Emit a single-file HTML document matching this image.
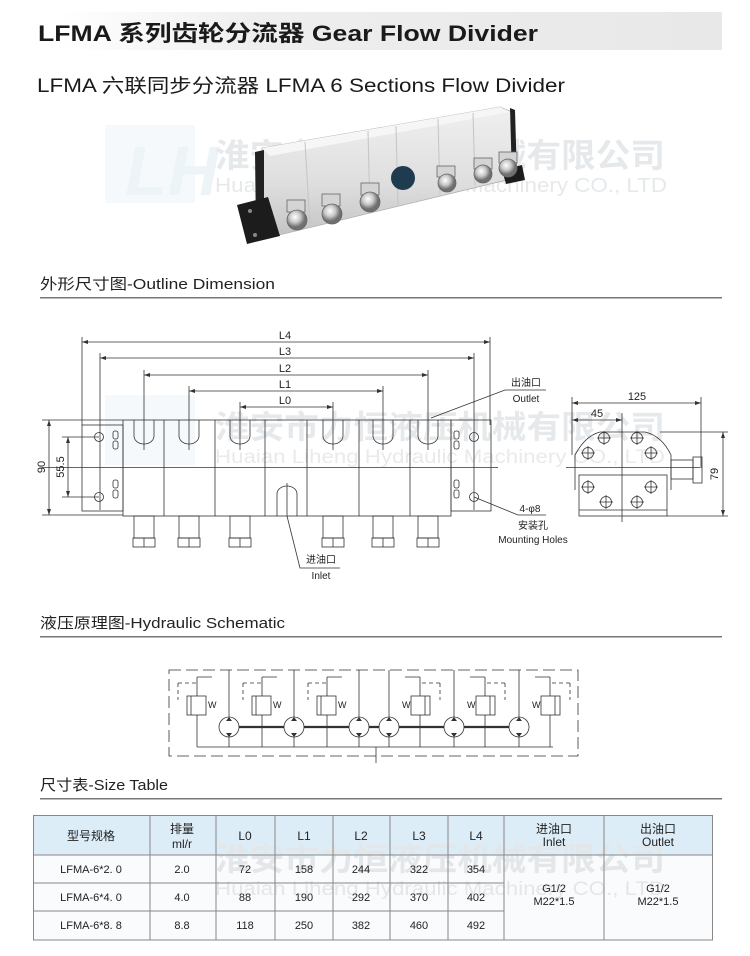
<!DOCTYPE html>
<html><head><meta charset="utf-8"><style>
html,body{margin:0;padding:0;background:#fff;}
svg{display:block;}
text{font-family:"Liberation Sans","Noto Sans CJK SC",sans-serif;}
</style></head><body>
<svg width="750" height="956" viewBox="0 0 750 956" xmlns="http://www.w3.org/2000/svg">
<defs>
<linearGradient id="hg" x1="0" x2="1"><stop offset="0" stop-color="#fff"/><stop offset="0.3" stop-color="#eeeeee"/><stop offset="1" stop-color="#e8e8e8"/></linearGradient>
<linearGradient id="body" x1="0" y1="0" x2="0" y2="1"><stop offset="0" stop-color="#f0f0f0"/><stop offset="0.6" stop-color="#dedede"/><stop offset="1" stop-color="#c4c4c4"/></linearGradient>
<radialGradient id="bolt" cx="0.4" cy="0.35"><stop offset="0" stop-color="#fff"/><stop offset="0.55" stop-color="#c8c8c8"/><stop offset="1" stop-color="#707070"/></radialGradient>
</defs>

<!-- header -->
<rect x="60" y="12" width="662" height="38" fill="url(#hg)"/>
<text x="38" y="41" font-size="22" font-weight="bold" fill="#1a1a1a" textLength="500" lengthAdjust="spacingAndGlyphs">LFMA 系列齿轮分流器 Gear Flow Divider</text>
<text x="37" y="92" font-size="19" fill="#1a1a1a" textLength="528" lengthAdjust="spacingAndGlyphs">LFMA 六联同步分流器 LFMA 6 Sections Flow Divider</text>

<!-- watermark photo -->
<rect x="105" y="125" width="90" height="78" fill="#f5f9fb"/>
<text x="125" y="195" font-size="70" font-style="italic" font-weight="bold" fill="#edf4f8">LH</text>
<text x="215" y="167" font-size="33" font-weight="bold" fill="#e6e9eb" textLength="450" lengthAdjust="spacingAndGlyphs">淮安市力恒液压机械有限公司</text>
<text x="215" y="192" font-size="20" fill="#e6e9eb" textLength="452" lengthAdjust="spacingAndGlyphs">Huaian Liheng Hydraulic Machinery CO., LTD</text>

<!-- photo of divider -->
<g>
<polygon points="262,148 500,107 512,112 515,178 275,236 262,232" fill="url(#body)" stroke="#b0b0b0" stroke-width="0.8"/>
<polygon points="262,148 500,107 510,112 270,156" fill="#f6f6f6"/>
<line x1="305" y1="142" x2="310" y2="226" stroke="#c4c4c4"/>
<line x1="368" y1="131" x2="370" y2="212" stroke="#c4c4c4"/>
<line x1="396" y1="126" x2="398" y2="205" stroke="#c4c4c4"/>
<line x1="438" y1="119" x2="440" y2="195" stroke="#c4c4c4"/>
<line x1="473" y1="113" x2="475" y2="186" stroke="#c4c4c4"/>
<polygon points="255,152 264,150 264,232 256,234" fill="#222"/>
<polygon points="510,108 515,110 517,178 512,180" fill="#222"/>
<polygon points="237,205 268,197 280,236 247,244" fill="#1c1c1c"/>
<circle cx="250" cy="211" r="2" fill="#888"/><circle cx="255" cy="235" r="2" fill="#888"/>
<polygon points="502,170 522,165 525,180 506,184" fill="#1c1c1c"/>
<circle cx="403" cy="178" r="12" fill="#1e3b50"/>
<g stroke="#666" stroke-width="0.8">
<rect x="287" y="200" width="18" height="12" fill="#d4d4d4"/><circle cx="297" cy="220" r="10" fill="url(#bolt)"/>
<rect x="322" y="194" width="18" height="12" fill="#d4d4d4"/><circle cx="332" cy="214" r="10" fill="url(#bolt)"/>
<rect x="361" y="183" width="18" height="12" fill="#d4d4d4"/><circle cx="370" cy="202" r="10" fill="url(#bolt)"/>
<rect x="437" y="166" width="18" height="11" fill="#d4d4d4"/><circle cx="447" cy="183" r="9" fill="url(#bolt)"/>
<rect x="474" y="158" width="18" height="11" fill="#d4d4d4"/><circle cx="483" cy="174" r="9" fill="url(#bolt)"/>
<rect x="499" y="152" width="18" height="11" fill="#d4d4d4"/><circle cx="508" cy="168" r="9" fill="url(#bolt)"/>
</g>
</g>

<!-- section headings -->
<text x="40" y="289" font-size="15" fill="#222" textLength="235" lengthAdjust="spacingAndGlyphs">外形尺寸图-Outline Dimension</text>
<rect x="40" y="297" width="682" height="1.5" fill="#777"/>
<text x="40" y="628" font-size="15" fill="#222" textLength="245" lengthAdjust="spacingAndGlyphs">液压原理图-Hydraulic Schematic</text>
<rect x="40" y="636" width="682" height="1.5" fill="#777"/>
<text x="40" y="790" font-size="15" fill="#222" textLength="128" lengthAdjust="spacingAndGlyphs">尺寸表-Size Table</text>
<rect x="40" y="798" width="682" height="1.5" fill="#777"/>

<!-- watermark dimension -->
<rect x="105" y="395" width="90" height="70" fill="#f5f9fb"/>
<text x="215" y="438" font-size="32" font-weight="bold" fill="#e6e9eb" textLength="450" lengthAdjust="spacingAndGlyphs">淮安市力恒液压机械有限公司</text>
<text x="215" y="463" font-size="19" fill="#e8eaec" textLength="450" lengthAdjust="spacingAndGlyphs">Huaian Liheng Hydraulic Machinery CO., LTD</text>

<!-- dimension drawing -->
<g stroke="#333" stroke-width="0.8" fill="none">
<line x1="82" y1="342" x2="490" y2="342"/>
<line x1="100" y1="358" x2="474" y2="358"/>
<line x1="144" y1="375" x2="428" y2="375"/>
<line x1="189" y1="391" x2="383" y2="391"/>
<line x1="240" y1="407" x2="333" y2="407"/>
<line x1="82" y1="337" x2="82" y2="425"/><line x1="490" y1="337" x2="490" y2="425"/>
<line x1="100" y1="353" x2="100" y2="510"/><line x1="474" y1="353" x2="474" y2="510"/>
<line x1="144" y1="370" x2="144" y2="450"/><line x1="428" y1="370" x2="428" y2="450"/>
<line x1="189" y1="386" x2="189" y2="450"/><line x1="383" y1="386" x2="383" y2="450"/>
<line x1="240" y1="402" x2="240" y2="450"/><line x1="333" y1="402" x2="333" y2="450"/>
<line x1="49" y1="420" x2="49" y2="515"/>
<line x1="42" y1="420" x2="123" y2="420"/><line x1="42" y1="515" x2="123" y2="515"/>
<line x1="68" y1="437" x2="68" y2="497"/>
<line x1="62" y1="437" x2="99" y2="437"/><line x1="62" y1="497" x2="99" y2="497"/>
<line x1="42" y1="467.5" x2="498" y2="467.5"/>
<rect x="82" y="425" width="41" height="86"/>
<rect x="451" y="420" width="40" height="91"/>
<circle cx="99" cy="437" r="4.5"/><circle cx="99" cy="497" r="4.5"/>
<circle cx="474" cy="437" r="4.5"/><circle cx="474" cy="497" r="4.5"/>
<rect x="113" y="431" width="5" height="8" rx="2"/><rect x="113" y="441" width="5" height="8" rx="2"/>
<rect x="113" y="480" width="5" height="8" rx="2"/><rect x="113" y="490" width="5" height="8" rx="2"/>
<rect x="454" y="431" width="5" height="8" rx="2"/><rect x="454" y="441" width="5" height="8" rx="2"/>
<rect x="454" y="480" width="5" height="8" rx="2"/><rect x="454" y="490" width="5" height="8" rx="2"/>
<rect x="123" y="420" width="328" height="96"/>
<line x1="164" y1="420" x2="164" y2="516"/><line x1="215" y1="420" x2="215" y2="516"/>
<line x1="265" y1="420" x2="265" y2="516"/><line x1="307" y1="420" x2="307" y2="516"/>
<line x1="359" y1="420" x2="359" y2="516"/><line x1="410" y1="420" x2="410" y2="516"/>
<path d="M134,420 V436 A10,8 0 0 0 154,436 V420"/>
<path d="M179,420 V436 A10,8 0 0 0 199,436 V420"/>
<path d="M230,420 V436 A10,8 0 0 0 250,436 V420"/>
<path d="M323,420 V436 A10,8 0 0 0 343,436 V420"/>
<path d="M373,420 V436 A10,8 0 0 0 393,436 V420"/>
<path d="M418,420 V436 A10,8 0 0 0 438,436 V420"/>
<path d="M277,516 V494 A10,8 0 0 1 297,494 V516"/>
<line x1="287" y1="483" x2="287" y2="516"/>
<g>
<rect x="134" y="516" width="20" height="22"/><rect x="133" y="538" width="22" height="9"/><line x1="144" y1="538" x2="144" y2="547"/>
<rect x="179" y="516" width="20" height="22"/><rect x="178" y="538" width="22" height="9"/><line x1="189" y1="538" x2="189" y2="547"/>
<rect x="230" y="516" width="20" height="22"/><rect x="229" y="538" width="22" height="9"/><line x1="240" y1="538" x2="240" y2="547"/>
<rect x="323" y="516" width="20" height="22"/><rect x="322" y="538" width="22" height="9"/><line x1="333" y1="538" x2="333" y2="547"/>
<rect x="373" y="516" width="20" height="22"/><rect x="372" y="538" width="22" height="9"/><line x1="383" y1="538" x2="383" y2="547"/>
<rect x="418" y="516" width="20" height="22"/><rect x="417" y="538" width="22" height="9"/><line x1="428" y1="538" x2="428" y2="547"/>
</g>
<polyline points="431,418 505,390 546,390"/>
<polyline points="474,497 518,515 546,515"/>
<polyline points="287,516 300,568 340,568"/>

<line x1="572" y1="403" x2="701" y2="403"/>
<line x1="572" y1="397" x2="572" y2="455"/><line x1="701" y1="397" x2="701" y2="468"/>
<line x1="572" y1="420" x2="622" y2="420"/>
<line x1="622" y1="413" x2="622" y2="522"/>
<line x1="723" y1="432" x2="723" y2="516"/>
<line x1="660" y1="432" x2="728" y2="432"/><line x1="667" y1="516" x2="728" y2="516"/>
<line x1="566" y1="467.5" x2="700" y2="467.5"/>
<path d="M575,490 V455 Q585,436 600,432 H645 Q662,436 671,455 V490"/>
<rect x="579" y="475" width="88" height="41"/>
<line x1="579" y1="510" x2="667" y2="510"/>
<rect x="671" y="460" width="22" height="19"/>
<rect x="693" y="457" width="9" height="26"/>
<g>
<circle cx="604" cy="438" r="5.5"/><circle cx="637" cy="438" r="5.5"/>
<circle cx="588" cy="453" r="5.5"/><circle cx="651" cy="453" r="5.5"/>
<circle cx="588" cy="487" r="5.5"/><circle cx="651" cy="487" r="5.5"/>
<circle cx="606" cy="502" r="5.5"/><circle cx="637" cy="502" r="5.5"/>
<path d="M604,431V445M597,438H611M637,431V445M630,438H644M588,446V460M581,453H595M651,446V460M644,453H658M588,480V494M581,487H595M651,480V494M644,487H658M606,495V509M599,502H613M637,495V509M630,502H644"/>
</g>
</g>
<g fill="#333">
<path d="M82,342 l6,-2 v4z"/><path d="M490,342 l-6,-2 v4z"/>
<path d="M100,358 l6,-2 v4z"/><path d="M474,358 l-6,-2 v4z"/>
<path d="M144,375 l6,-2 v4z"/><path d="M428,375 l-6,-2 v4z"/>
<path d="M189,391 l6,-2 v4z"/><path d="M383,391 l-6,-2 v4z"/>
<path d="M240,407 l6,-2 v4z"/><path d="M333,407 l-6,-2 v4z"/>
<path d="M49,420 l-2,6 h4z"/><path d="M49,515 l-2,-6 h4z"/>
<path d="M68,437 l-2,6 h4z"/><path d="M68,497 l-2,-6 h4z"/>
<path d="M572,403 l6,-2 v4z"/><path d="M701,403 l-6,-2 v4z"/>
<path d="M572,420 l6,-2 v4z"/><path d="M622,420 l-6,-2 v4z"/>
<path d="M723,432 l-2,6 h4z"/><path d="M723,516 l-2,-6 h4z"/>
</g>
<g font-size="11" fill="#222" text-anchor="middle">
<text x="285" y="339">L4</text><text x="285" y="355">L3</text><text x="285" y="372">L2</text>
<text x="285" y="388">L1</text><text x="285" y="404">L0</text>
<text x="637" y="400">125</text><text x="597" y="417">45</text>
<text transform="translate(45,467) rotate(-90)">90</text>
<text transform="translate(64,467) rotate(-90)">55.5</text>
<text transform="translate(718,474) rotate(-90)">79</text>
<text x="526" y="386" font-size="10">出油口</text>
<text x="526" y="402" font-size="10">Outlet</text>
<text x="530" y="512" font-size="10">4-φ8</text>
<text x="533" y="529" font-size="10">安装孔</text>
<text x="533" y="543" font-size="10">Mounting Holes</text>
<text x="321" y="563" font-size="10">进油口</text>
<text x="321" y="579" font-size="10">Inlet</text>
</g>

<!-- schematic -->
<g stroke="#333" stroke-width="0.8" fill="none">
<rect x="169" y="670" width="409" height="86" stroke-dasharray="12,5"/>
<line x1="229" y1="727" x2="519" y2="727" stroke-width="2.2"/>
<line x1="197" y1="747" x2="553" y2="747"/>
<line x1="376" y1="747" x2="376" y2="763"/>
<g fill="#fff">
<circle cx="229" cy="727" r="10"/><circle cx="294" cy="727" r="10"/><circle cx="359" cy="727" r="10"/>
<circle cx="389" cy="727" r="10"/><circle cx="454" cy="727" r="10"/><circle cx="519" cy="727" r="10"/>
</g>
<path d="M229,670V717M229,737V747M294,670V717M294,737V747M359,670V717M359,737V747M389,670V717M389,737V747M454,670V717M454,737V747M519,670V717M519,737V747"/>
<g>
<rect x="187" y="696" width="19" height="19"/><rect x="252" y="696" width="19" height="19"/><rect x="317" y="696" width="19" height="19"/>
<rect x="411" y="696" width="19" height="19"/><rect x="476" y="696" width="19" height="19"/><rect x="541" y="696" width="19" height="19"/>
</g>
<path d="M197,677V696M197,715V747M262,677V696M262,715V747M327,677V696M327,715V747M420,677V696M420,715V747M485,677V696M485,715V747M550,677V696M550,715V747"/>
<path d="M197,677H212M262,677H277M327,677H342M420,677H405M485,677H470M550,677H535"/>
<path d="M191,696V715M256,696V715M321,696V715M425,696V715M490,696V715M555,696V715"/>
<path d="M178,683V700 M178,683H197 M243,683V700 M243,683H262 M308,683V700 M308,683H327 M440,683V700 M440,683H420 M505,683V700 M505,683H485 M570,683V700 M570,683H550" stroke-dasharray="4,3"/>
</g>
<g fill="#333">
<path d="M229,717 l-3,4 h6z"/><path d="M229,737 l-3,-4 h6z"/>
<path d="M294,717 l-3,4 h6z"/><path d="M294,737 l-3,-4 h6z"/>
<path d="M359,717 l-3,4 h6z"/><path d="M359,737 l-3,-4 h6z"/>
<path d="M389,717 l-3,4 h6z"/><path d="M389,737 l-3,-4 h6z"/>
<path d="M454,717 l-3,4 h6z"/><path d="M454,737 l-3,-4 h6z"/>
<path d="M519,717 l-3,4 h6z"/><path d="M519,737 l-3,-4 h6z"/>
</g>
<g font-size="9" fill="#222">
<text x="208" y="708">W</text><text x="273" y="708">W</text><text x="338" y="708">W</text>
<text x="402" y="708">W</text><text x="467" y="708">W</text><text x="532" y="708">W</text>
</g>

<!-- table -->
<rect x="33" y="815" width="680" height="40" fill="#dcedf7"/>
<rect x="33" y="855" width="680" height="85" fill="#f9fbfc"/>
<text x="215" y="870" font-size="32" font-weight="bold" fill="#e3e7ea" textLength="450" lengthAdjust="spacingAndGlyphs">淮安市力恒液压机械有限公司</text>
<text x="215" y="895" font-size="19" fill="#e3e7ea" textLength="450" lengthAdjust="spacingAndGlyphs">Huaian Liheng Hydraulic Machinery CO., LTD</text>
<g stroke="#888" stroke-width="1" fill="none">
<rect x="33.5" y="815.5" width="679" height="124.5"/>
<line x1="33" y1="855" x2="713" y2="855"/>
<line x1="33" y1="883" x2="504" y2="883"/>
<line x1="33" y1="911" x2="504" y2="911"/>
<line x1="150" y1="815" x2="150" y2="940"/><line x1="216" y1="815" x2="216" y2="940"/>
<line x1="275" y1="815" x2="275" y2="940"/><line x1="333" y1="815" x2="333" y2="940"/>
<line x1="390" y1="815" x2="390" y2="940"/><line x1="448" y1="815" x2="448" y2="940"/>
<line x1="504" y1="815" x2="504" y2="940"/><line x1="604" y1="815" x2="604" y2="940"/>
</g>
<g font-size="12" fill="#222" text-anchor="middle">
<text x="91" y="840">型号规格</text>
<text x="182" y="833">排量</text><text x="182" y="848">ml/r</text>
<text x="245" y="840">L0</text><text x="304" y="840">L1</text><text x="361" y="840">L2</text>
<text x="419" y="840">L3</text><text x="476" y="840">L4</text>
<text x="554" y="833">进油口</text><text x="554" y="846">Inlet</text>
<text x="658" y="833">出油口</text><text x="658" y="846">Outlet</text>
<g font-size="11">
<text x="91" y="873">LFMA-6*2. 0</text><text x="182" y="873">2.0</text><text x="245" y="873">72</text><text x="304" y="873">158</text><text x="361" y="873">244</text><text x="419" y="873">322</text><text x="476" y="873">354</text>
<text x="91" y="901">LFMA-6*4. 0</text><text x="182" y="901">4.0</text><text x="245" y="901">88</text><text x="304" y="901">190</text><text x="361" y="901">292</text><text x="419" y="901">370</text><text x="476" y="901">402</text>
<text x="91" y="929">LFMA-6*8. 8</text><text x="182" y="929">8.8</text><text x="245" y="929">118</text><text x="304" y="929">250</text><text x="361" y="929">382</text><text x="419" y="929">460</text><text x="476" y="929">492</text>
<text x="554" y="892">G1/2</text><text x="554" y="905">M22*1.5</text>
<text x="658" y="892">G1/2</text><text x="658" y="905">M22*1.5</text>
</g>
</g>
</svg>
</body></html>
